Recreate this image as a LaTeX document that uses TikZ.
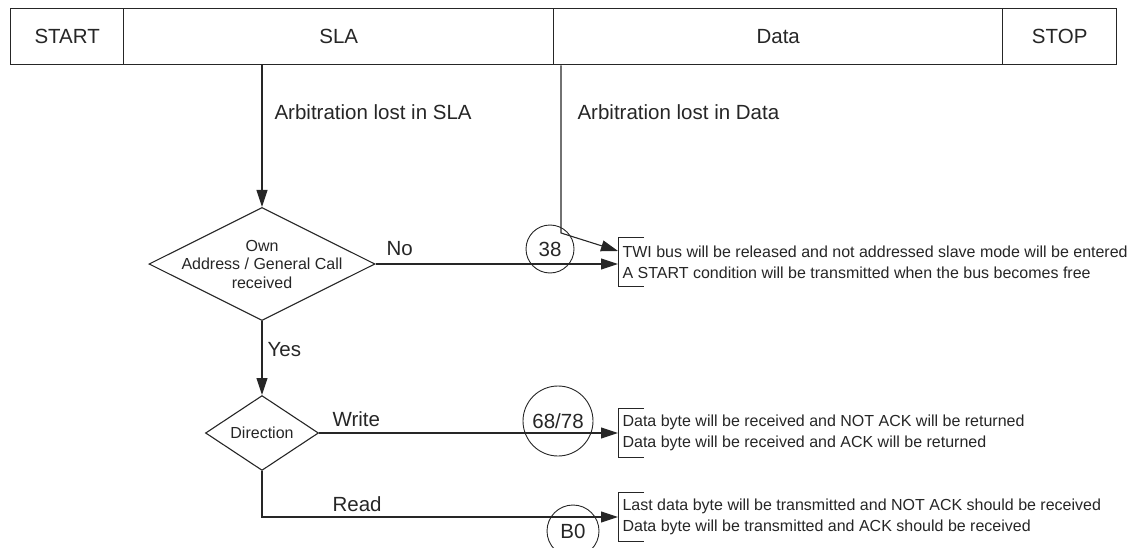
\documentclass[tikz,border=0pt]{standalone}
\usepackage{fontspec}
\setmainfont{Liberation Sans}
\usetikzlibrary{arrows.meta,shapes.geometric}
\tikzset{
  seg/.style={draw, line width=1.4pt, anchor=north west, minimum height=56pt, inner sep=0pt, font=\fontsize{20.5}{24}\selectfont},
  big/.style={anchor=west, inner sep=0pt, font=\fontsize{20.5}{24}\selectfont},
  choice/.style={draw, diamond, inner sep=0pt},
  tag/.style={draw, circle, inner sep=0pt, line width=0.9pt, font=\fontsize{20.5}{24}\selectfont},
  msg/.style={anchor=west, align=left, inner xsep=4pt, inner ysep=0pt, minimum height=48pt, font=\fontsize{16}{21}\selectfont},
  arr/.style={-{Triangle[length=17pt,width=11pt]}},
}
\begin{document}
\begin{tikzpicture}[x=1pt, y=-1pt, line width=1.1pt, draw=black!85, text=black!85]
        \useasboundingbox (0,0) rectangle (1147,548);
        \clip (0,0) rectangle (1147,548);
        % Frame
        \node[seg, minimum width=113pt] (start) at (10,8) {START};
        \node[seg, minimum width=430pt] (sla) at (123,8) {SLA};
        \node[seg, minimum width=449pt] (data) at (553,8) {Data};
        \node[seg, minimum width=114pt] (stop) at (1002,8) {STOP};
        
        % Decisions
        \node[choice, minimum width=226pt, minimum height=113pt,
              label={[align=center, font=\fontsize{16}{18.5}\selectfont]center:Own\\Address / General Call\\received}] (own) at (262,264) {};
        \node[choice, minimum width=113pt, minimum height=56pt, font=\fontsize{16}{18}\selectfont] (dir) at (262,433) {Direction};
        
        % Status codes
        \node[tag, minimum size=48pt] (c38) at (550,249) {38};
        \node[tag, minimum size=70pt] (c68) at (558,421) {68/78};
        \node[tag, minimum size=52pt] (cb0) at (573,531) {B0};
        
        % Actions
        \node[msg] (m1) at (618,262) {TWI bus will be released and not addressed slave mode will be entered\\A START condition will be transmitted when the bus becomes free};
        \node[msg] (m2) at (618,433) {Data byte will be received and NOT ACK will be returned\\Data byte will be received and ACK will be returned};
        \node[msg] (m3) at (618,517) {Last data byte will be transmitted and NOT ACK should be received\\Data byte will be transmitted and ACK should be received};
        \foreach \m in {m1,m2,m3}
            \draw[line width=0.9pt] ([xshift=26pt]\m.north west) -- (\m.north west) -- (\m.south west) -- ++(26,0);
        
        % Labels
        \node[big] (lsla) at (274,112) {Arbitration lost in SLA};
        \node[big] (ldata) at (577,112) {Arbitration lost in Data};
        \node[big] (lno) at (386,249) {No};
        \node[big] (lyes) at (267,350) {Yes};
        \node[big] (lwrite) at (332,419) {Write};
        \node[big] (lread) at (332,504) {Read};
        
        % Connectors
        \coordinate (bend) at (561,233);
        \draw[arr] (own.north |- sla.south) -- (own.north);
        \draw[arr] (bend |- data.south) -- (bend) -- ([yshift=11pt]m1.west);
        \draw[arr] (own.east) -- (own.east -| m1.west);
        \draw[arr] (own.south) -- (dir.north);
        \draw[arr] (dir.east) -- (dir.east -| m2.west);
        \draw[arr] (dir.south) |- (m3.west);
\end{tikzpicture}
\end{document}
